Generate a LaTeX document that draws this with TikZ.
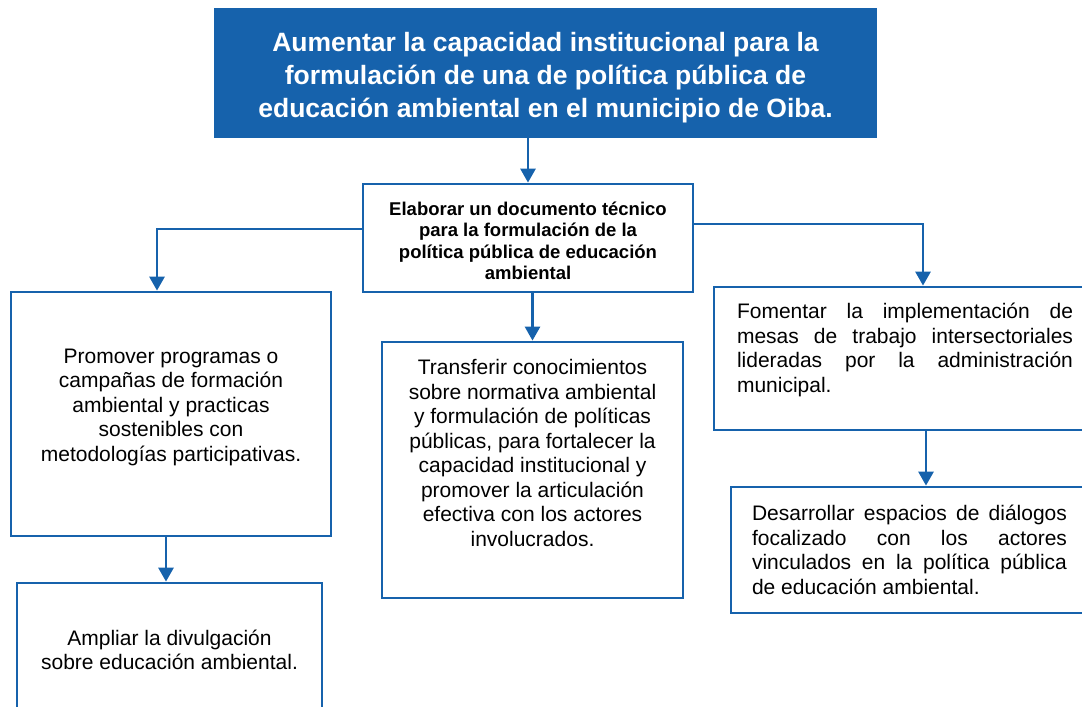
\documentclass[tikz,border=0pt]{standalone}
\usepackage{fontspec}
\setmainfont{Liberation Sans}
\usepackage{tikz}
\usetikzlibrary{arrows.meta}
\definecolor{oibablue}{RGB}{22,98,172}

\tikzset{
  box/.style={draw=oibablue, line width=2.8pt, fill=white, inner sep=0pt, align=center,
    font=\fontsize{21}{24.5}\selectfont},
  goalbox/.style={box, fill=oibablue, text=white, font=\fontsize{26.5}{33}\selectfont\bfseries},
  docbox/.style={box, font=\fontsize{18.5}{21.5}\selectfont\bfseries},
  justbox/.style={box, align=justify},
  arr/.style={draw=oibablue, line width=2.8pt, -{Triangle[width=15pt,length=14pt]}}
}

\begin{document}
\begin{tikzpicture}[x=1pt, y=-1pt]
            \clip (0,0) rectangle (1082,707);
            %\fill[white] (0,0) rectangle (1082,707);

            \node[goalbox, minimum width=661pt, minimum height=128pt] (goal) at (545.5,73)
                {\rule{0pt}{29pt}Aumentar la capacidad institucional para la\\formulación de una de política pública de\\educación ambiental en el municipio de Oiba.};
            \node[docbox, minimum width=330pt, minimum height=108pt] (doc) at (528,238)
                {\rule{0pt}{19pt}Elaborar un documento técnico\\para la formulación de la\\política pública de educación\\ambiental};

            \node[box, minimum width=320pt, minimum height=244pt] (promover) at (171,414)
                {Promover programas o\\campañas de formación\\ambiental y practicas\\sostenibles con\\metodologías participativas.\\[-7pt]};
            \node[box, minimum width=301pt, minimum height=256pt] (transfer) at (532.5,470)
                {Transferir conocimientos\\sobre normativa ambiental\\y formulación de políticas\\públicas, para fortalecer la\\capacidad institucional y\\promover la articulación\\efectiva con los actores\\involucrados.\\[10pt]};
            \node[justbox, text width=336pt, minimum width=382pt, minimum height=143pt] (fomentar) at (905,358.5)
                {Fomentar la implementación de\linebreak mesas de trabajo intersectoriales\linebreak lideradas por la administración\linebreak municipal.\\[-3pt]};

            \node[box, minimum width=305pt, minimum height=134pt] (ampliar) at (169.5,650)
                {Ampliar la divulgación\\sobre educación ambiental.};
            \node[justbox, text width=315pt, minimum width=357pt, minimum height=126pt] (desarrollar) at (909.5,550)
                {Desarrollar espacios de diálogos\linebreak focalizado con los actores\linebreak vinculados en la política pública\linebreak de educación ambiental.};

            \draw[arr] (doc.north |- goal.south) -- (doc.north);
            \draw[arr] ([yshift=9pt]doc.west) -| ([xshift=-14pt]promover.north);
            \draw[arr] ([yshift=14pt]doc.east) -| ([xshift=18pt]fomentar.north);
            \draw[arr] (transfer.north |- doc.south) -- (transfer.north);
            \draw[arr] ([xshift=-5pt]promover.south) -- ([xshift=-5pt]promover.south |- ampliar.north);
            \draw[arr] ([xshift=21pt]fomentar.south) -- ([xshift=21pt]fomentar.south |- desarrollar.north);
\end{tikzpicture}
\end{document}
